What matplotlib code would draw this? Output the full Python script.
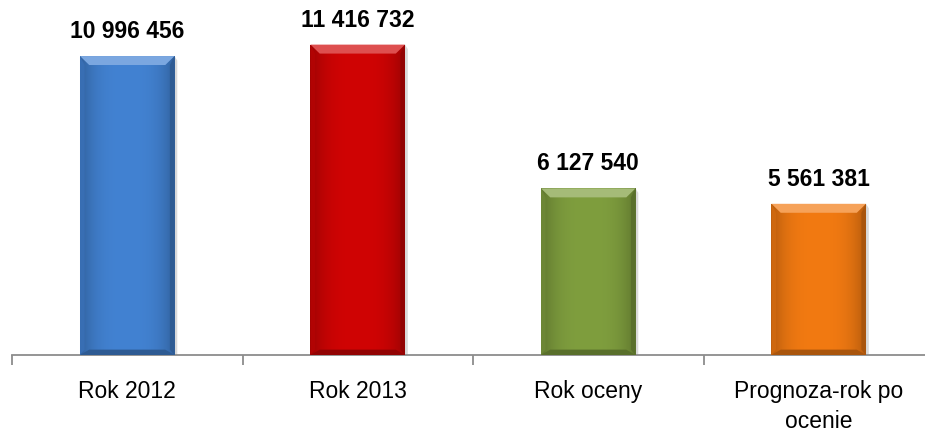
import matplotlib.pyplot as plt
import numpy as np
from matplotlib.patches import Polygon
from matplotlib.colors import to_rgb

# dane
categories = ["Rok 2012", "Rok 2013", "Rok oceny", "Prognoza-rok po\nocenie"]
values = [10996456, 11416732, 6127540, 5561381]
value_labels = ["10 996 456", "11 416 732", "6 127 540", "5 561 381"]
colors = ["#4282D2", "#D00404", "#7F9E3E", "#F27A12"]

plt.rcParams['font.family'] = ['Liberation Sans', 'DejaVu Sans']

fig = plt.figure(figsize=(9.25, 4.32), dpi=100)
# os rozciaga sie poza prawa krawedz jak w oryginale
ax = fig.add_axes([12/925, 77/432, 922/925, 345/432])

x = np.arange(len(categories))
bars = ax.bar(x, values, width=0.41, color=colors, zorder=3)

ax.set_xlim(-0.5, 3.5)
ax.set_ylim(0, 12.69e6)


def mix(c, other, t):
    c = np.array(to_rgb(c))
    return tuple(c * (1 - t) + np.array(other) * t)


# efekt "bevel" na slupkach
bx = 0.04    # szerokosc skosu w jednostkach x
by = 3.3e5   # wysokosc skosu w jednostkach y
for b, c in zip(bars, colors):
    x0, w, h = b.get_x(), b.get_width(), b.get_height()
    x1 = x0 + w
    # gradient poziomy (ciemniejsze krawedzie)
    t = np.linspace(-1, 1, 60)
    shade = np.abs(t) ** 3
    img = np.array([[mix(c, (0, 0, 0), 0.25 * s) for s in shade]])
    im = ax.imshow(img, extent=[x0, x1, 0, h], aspect='auto', zorder=4,
                   interpolation='bilinear')
    im.set_clip_path(b)
    # gorny skos - jasniejszy
    ax.add_patch(Polygon([(x0, h), (x1, h), (x1 - bx, h - by), (x0 + bx, h - by)],
                         closed=True, color=mix(c, (1, 1, 1), 0.3), lw=0, zorder=5))
    # dolny skos - ciemniejszy
    ax.add_patch(Polygon([(x0, 0), (x1, 0), (x1 - bx, by * 0.6), (x0 + bx, by * 0.6)],
                         closed=True, color=mix(c, (0, 0, 0), 0.3), lw=0, zorder=5))
    # boczne skosy
    ax.add_patch(Polygon([(x0, 0), (x0 + bx * 0.5, by * 0.6), (x0 + bx * 0.5, h - by), (x0, h)],
                         closed=True, color=mix(c, (0, 0, 0), 0.15), lw=0, zorder=5))
    ax.add_patch(Polygon([(x1, 0), (x1 - bx * 0.5, by * 0.6), (x1 - bx * 0.5, h - by), (x1, h)],
                         closed=True, color=mix(c, (0, 0, 0), 0.3), lw=0, zorder=5))
    # cien
    ax.add_patch(Polygon([(x1, 0), (x1 + 0.012, 0), (x1 + 0.012, h - by * 0.5), (x1, h)],
                         closed=True, color=(0.85, 0.85, 0.85), lw=0, zorder=2))

# etykiety wartosci
for xi, v, lab in zip(x, values, value_labels):
    ax.annotate(lab, (xi, v), xytext=(0, 13), textcoords='offset points',
                ha='center', va='baseline', fontsize=16.5, fontweight='bold')

# osie
for s in ['left', 'right', 'top']:
    ax.spines[s].set_visible(False)
ax.spines['bottom'].set_color('#8C8C8C')
ax.spines['bottom'].set_linewidth(1.3)
ax.set_yticks([])
ax.set_xticks(x)
ax.set_xticklabels(categories, fontsize=16.5, linespacing=1.4)
ax.tick_params(axis='x', which='major', length=0, pad=18)
ax.set_xticks([-0.5, 0.5, 1.5, 2.5, 3.5], minor=True)
ax.tick_params(axis='x', which='minor', length=7, width=1.3, color='#8C8C8C')

fig.savefig("out.png", dpi=100)
